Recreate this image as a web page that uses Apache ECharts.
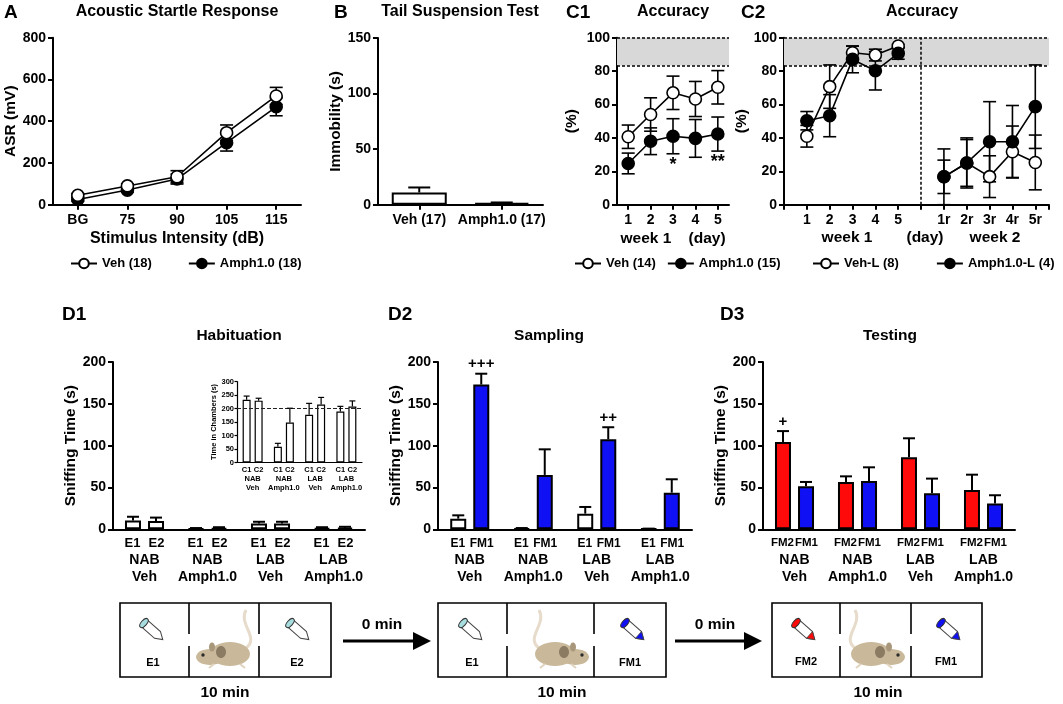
<!DOCTYPE html>
<html>
<head>
<meta charset="utf-8">
<script src="https://cdn.jsdelivr.net/npm/echarts@6/dist/echarts.min.js"></script>
<style>
  html, body { margin: 0; background: #fff; }
  #chart { width: 1063px; height: 704px; }
</style>
</head>
<body>
<div id="chart"></div>
<script>
const FONT = 'Liberation Sans, Arial, sans-serif';
const ink = '#000';
const blue = '#1010f5';
const red = '#ff0a0a';

// A - acoustic startle
const asrCats = ['BG', '75', '90', '105', '115'];
const asrVeh = [45, 90, 134, 345, 521];
const asrVehErr = [8, 10, 29, 37, 41];
const asrAmph = [25, 70, 123, 297, 469];
const asrAmphErr = [8, 10, 24, 40, 43];

// B - tail suspension
const tstCats = ['Veh (17)', 'Amph1.0 (17)'];
const tstVals = [11, 1.5];
const tstErr = [4.5, 0.5];

// C1 - accuracy week 1
const c1Days = ['1', '2', '3', '4', '5'];
const c1Veh = [40.7, 54, 67, 63.3, 70.3];
const c1VehErr = [7, 10, 10, 10.5, 10];
const c1Amph = [24.7, 38, 41, 39.7, 42.3];
const c1AmphErr = [6.2, 8, 10.5, 11.3, 10.2];
const c1Marks = ['', '', '*', '', '**'];

// C2 - accuracy week 1 + reversal week 2
const c2Pos = [1, 2, 3, 4, 5, 6, 7, 8, 9, 10, 11];
const c2Ticks = ['', '1', '2', '3', '4', '5', '', '1r', '2r', '3r', '4r', '5r'];
const c2Veh = [41, 70.7, 91, 89.6, 95, null, 16.7, 25, 16.8, 31.7, 25.3];
const c2VehErr = [6.5, 13, 4, 3.5, 1, null, 10, 14, 12.5, 15.4, 16.4];
const c2Amph = [50.3, 53.3, 87, 80.2, 90.6, null, 16.7, 25, 37.7, 37.7, 58.7];
const c2AmphErr = [5.5, 12.6, 8, 11.5, 3.5, null, 16.7, 15, 24, 21.7, 25];
const c2Split = 6;
const criterion = [83.3, 100];

// D - social odour discrimination
const dGroups = ['NAB', 'NAB', 'LAB', 'LAB'];
const dDrugs = ['Veh', 'Amph1.0', 'Veh', 'Amph1.0'];
const habE1 = [10.4, 1, 7, 1.5];
const habE1Err = [4.6, 0.5, 2, 1];
const habE2 = [10, 1.5, 7, 2];
const habE2Err = [4, 1, 2, 1];
const chamberC1 = [232, 58, 177, 189];
const chamberC1Err = [14, 13, 42, 19];
const chamberC2 = [229, 148, 215, 207];
const chamberC2Err = [9, 53, 26, 21];
const chamberRef = 200;
const sampE1 = [12.7, 1, 18.7, 0.5];
const sampE1Err = [4, 0.5, 8, 0.3];
const sampFM1 = [173, 65, 107.6, 43.8];
const sampFM1Err = [13, 30.6, 14.4, 16];
const sampMarks = ['+++', '', '++', ''];
const testFM2 = [104.4, 56.6, 86, 47];
const testFM2Err = [13, 6.7, 22.8, 18.3];
const testFM1 = [51.4, 57.8, 43, 30.7];
const testFM1Err = [5.2, 16.3, 17.6, 10];
const testMarks = ['+', '', '', ''];

const dCats = dGroups.map((g, i) => g + ' ' + dDrugs[i]);

function txt(text, x, y, size, align) {
  return {
    type: 'text', silent: true,
    style: {
      text, x, y, fill: ink, fontFamily: FONT, fontWeight: 'bold', fontSize: size,
      align: align || 'center', textAlign: align || 'center',
      verticalAlign: 'middle', textVerticalAlign: 'middle'
    }
  };
}

function yAx(gi, max, step, name, gap, small) {
  return {
    type: 'value', gridIndex: gi, min: 0, max, interval: step,
    name, nameLocation: 'middle', nameGap: gap, nameRotate: 90,
    nameTextStyle: { fontFamily: FONT, fontWeight: 'bold', fontSize: small ? 7.5 : 15.5, color: ink },
    axisLine: { show: true, lineStyle: { color: ink, width: small ? 1.2 : 2 } },
    axisTick: { show: true, length: small ? 2.5 : 5, lineStyle: { color: ink, width: small ? 1.2 : 2 } },
    axisLabel: { fontFamily: FONT, fontWeight: 'bold', fontSize: small ? 7.5 : 14, color: ink, margin: small ? 3 : 7 },
    splitLine: { show: false }
  };
}

function xCat(gi, data, opts) {
  return Object.assign({
    type: 'category', gridIndex: gi, data,
    axisLine: { show: true, lineStyle: { color: ink, width: 2 } },
    axisTick: { show: true, alignWithLabel: true, length: 5, lineStyle: { color: ink, width: 2 } },
    axisLabel: { fontFamily: FONT, fontWeight: 'bold', fontSize: 14, color: ink, margin: 8, interval: 0 },
    splitLine: { show: false }
  }, opts || {});
}

function groupAxis(gi, sub, fs, small) {
  return xCat(gi, dCats, {
    axisLine: { show: true, lineStyle: { color: ink, width: small ? 1.2 : 2 } },
    axisTick: { show: false },
    axisLabel: {
      interval: 0, margin: small ? 3 : 6, color: ink,
      formatter: (v, i) => '{s|' + sub[0] + '}{s|' + sub[1] + '}\n{g|' + dGroups[i] + '}\n{g|' + dDrugs[i] + '}',
      rich: {
        s: { width: small ? 12 : 24, align: 'center', fontFamily: FONT, fontWeight: 'bold', fontSize: fs, lineHeight: small ? 9 : 16, color: ink },
        g: { fontFamily: FONT, fontWeight: 'bold', fontSize: small ? 7.5 : 14, lineHeight: small ? 9 : 17, color: ink }
      }
    }
  });
}

function lineErr(xi, means, errs, xs, marks) {
  const rows = [];
  means.forEach((m, i) => { if (m != null) rows.push([xs ? xs[i] : i, m, errs[i], i]); });
  return {
    type: 'custom', xAxisIndex: xi, yAxisIndex: xi, z: 2, silent: true,
    data: rows,
    renderItem(params, api) {
      const x = api.value(0), m = api.value(1), e = api.value(2);
      const hi = api.coord([x, m + e]), lo = api.coord([x, m - e]);
      const cap = 13, st = { stroke: ink, lineWidth: 1.6 };
      const kids = [
        { type: 'line', shape: { x1: hi[0], y1: hi[1], x2: lo[0], y2: lo[1] }, style: st },
        { type: 'line', shape: { x1: hi[0] - cap / 2, y1: hi[1], x2: hi[0] + cap / 2, y2: hi[1] }, style: st },
        { type: 'line', shape: { x1: lo[0] - cap / 2, y1: lo[1], x2: lo[0] + cap / 2, y2: lo[1] }, style: st }
      ];
      const mk = marks && marks[rows[params.dataIndex][3]];
      if (mk) {
        kids.push({ type: 'text', style: { text: mk, x: lo[0], y: lo[1] + 2, fill: ink, fontFamily: FONT, fontWeight: 'bold', fontSize: 18, align: 'center', textAlign: 'center', verticalAlign: 'top', textVerticalAlign: 'top' } });
      }
      return { type: 'group', children: kids };
    }
  };
}

function barErr(xi, means, errs, offset, cap, marks, lw) {
  return {
    type: 'custom', xAxisIndex: xi, yAxisIndex: xi, z: 5, silent: true,
    data: means.map((m, i) => [i, m, errs[i]]),
    renderItem(params, api) {
      const i = api.value(0), m = api.value(1), e = api.value(2);
      const top = api.coord([i, m]), hi = api.coord([i, m + e]);
      const x = top[0] + offset, st = { stroke: ink, lineWidth: lw || 2 };
      const kids = [
        { type: 'line', shape: { x1: x, y1: top[1], x2: x, y2: hi[1] }, style: st },
        { type: 'line', shape: { x1: x - cap / 2, y1: hi[1], x2: x + cap / 2, y2: hi[1] }, style: st }
      ];
      const mk = marks && marks[params.dataIndex];
      if (mk) {
        kids.push({ type: 'text', style: { text: mk, x, y: hi[1] - 2, fill: ink, fontFamily: FONT, fontWeight: 'bold', fontSize: 15, align: 'center', textAlign: 'center', verticalAlign: 'bottom', textVerticalAlign: 'bottom' } });
      }
      return { type: 'group', children: kids };
    }
  };
}

function lineSeries(name, xi, data, filled, extra) {
  return Object.assign({
    type: 'line', name, xAxisIndex: xi, yAxisIndex: xi, data, z: 3,
    symbol: 'circle', symbolSize: 12, showSymbol: true,
    lineStyle: { color: ink, width: 1.6 },
    itemStyle: { color: filled ? ink : '#fff', borderColor: ink, borderWidth: 1.6 },
    emphasis: { disabled: true }, animation: false
  }, extra || {});
}

function barSeries(xi, data, color, width, gap, bw) {
  return {
    type: 'bar', xAxisIndex: xi, yAxisIndex: xi, data, barWidth: width, barGap: gap,
    itemStyle: { color, borderColor: ink, borderWidth: bw || 2 },
    emphasis: { disabled: true }, animation: false, z: 2
  };
}

const band = {
  silent: true, itemStyle: { color: '#d8d8d8' },
  data: [[{ yAxis: criterion[0] }, { yAxis: criterion[1] }]]
};
function dotted(data) {
  return {
    silent: true, symbol: 'none', label: { show: false },
    lineStyle: { type: [3, 2], color: ink, width: 1.5 },
    data
  };
}

// bottom protocol drawings
function chamber(x0, x1, d1, d2) {
  const y0 = 603, y1 = 677, g0 = 634, g1 = 646, st = { stroke: ink, lineWidth: 1.6 };
  return [
    { type: 'rect', shape: { x: x0, y: y0, width: x1 - x0, height: y1 - y0 }, style: { fill: '#fff', stroke: ink, lineWidth: 1.6 } },
    { type: 'line', shape: { x1: d1, y1: y0, x2: d1, y2: g0 }, style: st },
    { type: 'line', shape: { x1: d1, y1: g1, x2: d1, y2: y1 }, style: st },
    { type: 'line', shape: { x1: d2, y1: y0, x2: d2, y2: g0 }, style: st },
    { type: 'line', shape: { x1: d2, y1: g1, x2: d2, y2: y1 }, style: st }
  ];
}
function tube(cx, cy, capColor, tipColor) {
  const kids = [
    { type: 'polygon', shape: { points: [[-12, -4.5], [6, -4.5], [13, 0], [6, 4.5], [-12, 4.5]] }, style: { fill: '#fff', stroke: '#444', lineWidth: 1 } }
  ];
  if (tipColor) kids.push({ type: 'polygon', shape: { points: [[6, -4.5], [13, 0], [6, 4.5]] }, style: { fill: tipColor, stroke: '#444', lineWidth: 0.8 } });
  kids.push({ type: 'ellipse', shape: { cx: -12, cy: 0, rx: 2.8, ry: 5.5 }, style: { fill: capColor, stroke: '#333', lineWidth: 1 } });
  return { type: 'group', x: cx, y: cy, rotation: -0.72, silent: true, children: kids };
}
function mouse(cx, cy, faceRight) {
  const fur = '#c9b99a';
  return {
    type: 'group', x: cx, y: cy, scaleX: faceRight ? -1 : 1, silent: true,
    children: [
      { type: 'bezierCurve', shape: { x1: 22, y1: -4, cpx1: 36, cpy1: -14, cpx2: 14, cpy2: -28, x2: 22, y2: -42 }, style: { stroke: '#e7dccb', lineWidth: 3, fill: null } },
      { type: 'ellipse', shape: { cx: 6, cy: 2, rx: 20, ry: 12 }, style: { fill: fur } },
      { type: 'ellipse', shape: { cx: -14, cy: 5, rx: 14, ry: 8 }, style: { fill: fur } },
      { type: 'line', shape: { x1: -10, y1: 12, x2: -15, y2: 16 }, style: { stroke: '#e0d4bf', lineWidth: 2 } },
      { type: 'line', shape: { x1: 16, y1: 12, x2: 21, y2: 16 }, style: { stroke: '#e0d4bf', lineWidth: 2 } },
      { type: 'ellipse', shape: { cx: -12, cy: -5, rx: 3, ry: 4.5 }, style: { fill: '#a8977b' } },
      { type: 'ellipse', shape: { cx: -3, cy: 0, rx: 5, ry: 6 }, style: { fill: '#8c7b63' } },
      { type: 'circle', shape: { cx: -21, cy: 3, r: 1.7 }, style: { fill: '#2b2b2b' } }
    ]
  };
}
function arrow(x0, x1, y) {
  return [
    { type: 'line', shape: { x1: x0, y1: y, x2: x1 - 14, y2: y }, style: { stroke: ink, lineWidth: 3 } },
    { type: 'polygon', shape: { points: [[x1 - 18, y - 9], [x1, y], [x1 - 18, y + 9]] }, style: { fill: ink } }
  ];
}

const graphics = [
  txt('A', 4, 13, 19, 'left'),
  txt('Acoustic Startle Response', 177, 12, 16),
  txt('B', 334, 13, 19, 'left'),
  txt('Tail Suspension Test', 460, 12, 16),
  txt('C1', 566, 13, 19, 'left'),
  txt('Accuracy', 673, 12, 16),
  txt('C2', 741, 13, 19, 'left'),
  txt('Accuracy', 922, 12, 16),
  txt('week 1', 847, 238, 15.5),
  txt('(day)', 925, 238, 15.5),
  txt('week 2', 995, 238, 15.5),
  txt('D1', 62, 315, 19, 'left'),
  txt('Habituation', 239, 336, 15.5),
  txt('D2', 388, 315, 19, 'left'),
  txt('Sampling', 549, 336, 15.5),
  txt('D3', 720, 315, 19, 'left'),
  txt('Testing', 890, 336, 15.5)
].concat(
  chamber(120, 331, 189, 259),
  chamber(438, 666, 507, 594),
  chamber(772, 982, 840, 911),
  [
    tube(153, 631, '#a8dde0'), tube(299, 631, '#a8dde0'),
    tube(472, 631, '#a8dde0'), tube(634, 631, blue, blue),
    tube(805, 631, red, red), tube(950, 631, blue, blue),
    mouse(224, 652, false), mouse(561, 652, true), mouse(877, 652, true),
    txt('E1', 153, 663, 11), txt('E2', 297, 663, 11),
    txt('E1', 472, 663, 11), txt('FM1', 630, 663, 11),
    txt('FM2', 806, 662, 11), txt('FM1', 946, 662, 11),
    txt('10 min', 225, 693, 15.5), txt('10 min', 562, 693, 15.5), txt('10 min', 878, 693, 15.5),
    txt('0 min', 382, 625, 15.5), txt('0 min', 715, 625, 15.5)
  ],
  arrow(343, 431, 641),
  arrow(675, 762, 641)
);

const legendBase = {
  itemWidth: 26, itemHeight: 12, top: 257, padding: 0, width: 320,
  textStyle: { fontFamily: FONT, fontWeight: 'bold', fontSize: 13, color: ink },
  selectedMode: false
};

const option = {
  animation: false,
  backgroundColor: '#fff',
  grid: [
    { left: 53, top: 37.7, width: 248, height: 167 },
    { left: 378, top: 38, width: 165, height: 166.7 },
    { left: 617, top: 37.7, width: 112, height: 167 },
    { left: 784, top: 37.7, width: 265, height: 167 },
    { left: 113, top: 362, width: 252, height: 167.3 },
    { left: 237, top: 381.5, width: 125, height: 81 },
    { left: 438, top: 362, width: 254, height: 167.3 },
    { left: 763, top: 362, width: 252, height: 167.3 }
  ].map(g => Object.assign(g, { containLabel: false, outerBoundsMode: 'none' })),
  legend: [
    Object.assign({ data: ['Veh (18)', 'Amph1.0 (18)'], left: 70, itemGap: 36 }, legendBase),
    Object.assign({ data: ['Veh (14)', 'Amph1.0 (15)'], left: 574, itemGap: 11 }, legendBase),
    Object.assign({ data: ['Veh-L (8)', 'Amph1.0-L (4)'], left: 812, itemGap: 37 }, legendBase)
  ],
  xAxis: [
    xCat(0, asrCats, {
      name: 'Stimulus Intensity (dB)', nameLocation: 'middle', nameGap: 26,
      nameTextStyle: { fontFamily: FONT, fontWeight: 'bold', fontSize: 16, color: ink }
    }),
    xCat(1, tstCats),
    xCat(2, c1Days, {
      name: 'week 1    (day)', nameLocation: 'middle', nameGap: 26,
      nameTextStyle: { fontFamily: FONT, fontWeight: 'bold', fontSize: 15.5, color: ink }
    }),
    {
      type: 'value', gridIndex: 3, min: 0, max: 11.6, interval: 1,
      axisLine: { show: true, lineStyle: { color: ink, width: 2 } },
      axisTick: { show: true, length: 5, lineStyle: { color: ink, width: 2 } },
      axisLabel: { fontFamily: FONT, fontWeight: 'bold', fontSize: 14, color: ink, margin: 8, formatter: v => c2Ticks[v] || '' },
      splitLine: { show: false }
    },
    groupAxis(4, ['E1', 'E2'], 13),
    groupAxis(5, ['C1', 'C2'], 7.5, true),
    groupAxis(6, ['E1', 'FM1'], 12),
    groupAxis(7, ['FM2', 'FM1'], 11.5)
  ],
  yAxis: [
    yAx(0, 800, 200, 'ASR (mV)', 30),
    yAx(1, 150, 50, 'Immobility (s)', 31),
    yAx(2, 100, 20, '(%)', 37),
    yAx(3, 100, 20, '(%)', 34),
    yAx(4, 200, 50, 'Sniffing Time (s)', 33),
    yAx(5, 300, 50, 'Time in Chambers (s)', 19, true),
    yAx(6, 200, 50, 'Sniffing Time (s)', 31),
    yAx(7, 200, 50, 'Sniffing Time (s)', 32)
  ],
  series: [
    // A
    lineErr(0, asrAmph, asrAmphErr),
    lineErr(0, asrVeh, asrVehErr),
    lineSeries('Amph1.0 (18)', 0, asrAmph, true),
    lineSeries('Veh (18)', 0, asrVeh, false),
    // B
    barSeries(1, tstVals, '#fff', 55, '0%'),
    barErr(1, tstVals, tstErr, 0, 22),
    // C1
    lineErr(2, c1Veh, c1VehErr),
    lineErr(2, c1Amph, c1AmphErr, null, c1Marks),
    lineSeries('Veh (14)', 2, c1Veh, false, {
      markArea: band,
      markLine: dotted([{ yAxis: criterion[0] }, { yAxis: criterion[1] }])
    }),
    lineSeries('Amph1.0 (15)', 2, c1Amph, true),
    // C2
    lineErr(3, c2Veh, c2VehErr, c2Pos),
    lineErr(3, c2Amph, c2AmphErr, c2Pos),
    lineSeries('Veh-L (8)', 3, c2Pos.map((p, i) => [p, c2Veh[i]]), false, {
      markArea: band,
      markLine: dotted([{ yAxis: criterion[0] }, { yAxis: criterion[1] }, { xAxis: c2Split }])
    }),
    lineSeries('Amph1.0-L (4)', 3, c2Pos.map((p, i) => [p, c2Amph[i]]), true),
    // D1
    barSeries(4, habE1, '#fff', 16, '44%'),
    barSeries(4, habE2, '#fff', 16, '44%'),
    barErr(4, habE1, habE1Err, -11.5, 12),
    barErr(4, habE2, habE2Err, 11.5, 12),
    // inset
    Object.assign(barSeries(5, chamberC1, '#fff', 8, '50%', 1.2), {
      markLine: {
        silent: true, symbol: 'none', label: { show: false },
        lineStyle: { type: [4, 2], color: '#222', width: 1.2 },
        data: [{ yAxis: chamberRef }]
      }
    }),
    barSeries(5, chamberC2, '#fff', 8, '50%', 1.2),
    barErr(5, chamberC1, chamberC1Err, -6, 6, null, 1.2),
    barErr(5, chamberC2, chamberC2Err, 6, 6, null, 1.2),
    // D2
    barSeries(6, sampE1, '#fff', 16, '44%'),
    barSeries(6, sampFM1, blue, 16, '44%'),
    barErr(6, sampE1, sampE1Err, -11.5, 12),
    barErr(6, sampFM1, sampFM1Err, 11.5, 12, sampMarks),
    // D3
    barSeries(7, testFM2, red, 16, '44%'),
    barSeries(7, testFM1, blue, 16, '44%'),
    barErr(7, testFM2, testFM2Err, -11.5, 12, testMarks),
    barErr(7, testFM1, testFM1Err, 11.5, 12)
  ],
  graphic: { elements: graphics }
};

const chart = echarts.init(document.getElementById('chart'), null, { renderer: 'canvas', width: 1063, height: 704 });
chart.setOption(option);
</script>
</body>
</html>
